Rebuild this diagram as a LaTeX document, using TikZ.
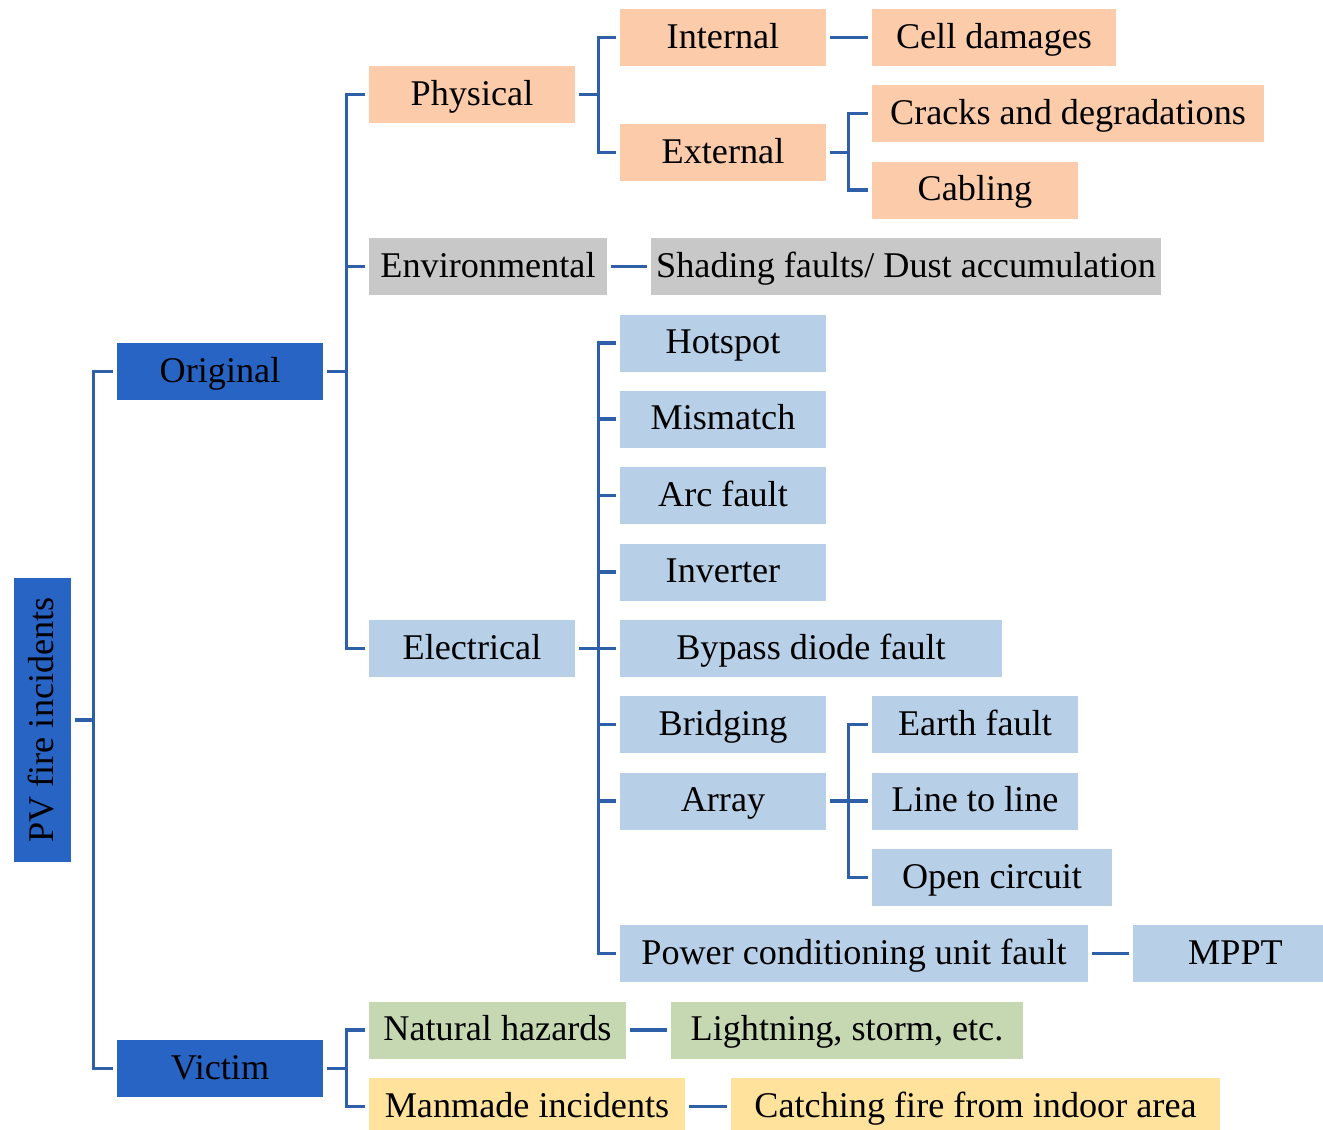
\documentclass[tikz,border=0pt]{standalone}
\usepackage{fontspec}
\setmainfont{Liberation Serif}
\definecolor{darkBlue}{RGB}{40,100,196}
\definecolor{lightBlue}{RGB}{183,208,232}
\definecolor{peach}{RGB}{251,203,170}
\definecolor{stone}{RGB}{200,200,200}
\definecolor{sage}{RGB}{197,216,178}
\definecolor{butter}{RGB}{255,226,155}
\definecolor{linkBlue}{RGB}{46,96,170}
\begin{document}
\begin{tikzpicture}[x=0.02cm, y=-0.02cm,
    boxStyle/.style={rectangle, inner sep=0pt, minimum height=1.14cm, minimum width=4.12cm,
        text height=15pt, text depth=3pt, font=\fontsize{20.6}{24}\selectfont},
    linkStyle/.style={draw=linkBlue, line width=2pt, shorten <=0.08cm, shorten >=0.08cm}]
    \path[use as bounding box, fill=white] (0,0) rectangle (1323,1130);

    \node[boxStyle, fill=darkBlue, rotate=90, minimum width=5.68cm](root) at (42.5, 720) {PV fire incidents};
    \node[boxStyle, fill=darkBlue](orig) at (220, 371.5) {Original};
    \node[boxStyle, fill=darkBlue](vict) at (220, 1068.5) {Victim};

    \node[boxStyle, fill=peach](phys) at (472, 94.5) {Physical};
    \node[boxStyle, fill=stone, minimum width=4.76cm](env) at (488, 266.5) {Environmental};
    \node[boxStyle, fill=lightBlue](elec) at (472, 648.5) {Electrical};

    \node[boxStyle, fill=peach](intl) at (723, 37.5) {Internal};
    \node[boxStyle, fill=peach](extl) at (723, 152.5) {External};
    \node[boxStyle, fill=peach, minimum width=4.88cm](cell) at (994, 37.5) {Cell damages};
    \node[boxStyle, fill=peach, minimum width=7.84cm](crack) at (1068, 113.5) {Cracks and degradations};
    \node[boxStyle, fill=peach](cable) at (975, 190) {Cabling};
    \node[boxStyle, fill=stone, minimum width=10.2cm](shade) at (906, 266.5) {Shading faults/ Dust accumulation};

    \node[boxStyle, fill=lightBlue](hot) at (723, 343) {Hotspot};
    \node[boxStyle, fill=lightBlue](mis) at (723, 419) {Mismatch};
    \node[boxStyle, fill=lightBlue](arc) at (723, 495.5) {Arc fault};
    \node[boxStyle, fill=lightBlue](inv) at (723, 572) {Inverter};
    \node[boxStyle, fill=lightBlue, minimum width=7.64cm](byp) at (811, 648.5) {Bypass diode fault};
    \node[boxStyle, fill=lightBlue](brid) at (723, 724.5) {Bridging};
    \node[boxStyle, fill=lightBlue](arr) at (723, 801) {Array};
    \node[boxStyle, fill=lightBlue, minimum width=9.36cm](pcu) at (854, 953.5) {Power conditioning unit fault};
    \node[boxStyle, fill=lightBlue](earth) at (975, 724.5) {Earth fault};
    \node[boxStyle, fill=lightBlue](l2l) at (975, 801) {Line to line};
    \node[boxStyle, fill=lightBlue, minimum width=4.8cm](open) at (992, 877.5) {Open circuit};
    \node[boxStyle, fill=lightBlue, minimum width=3.8cm](mppt) at (1228, 953.5) {\hspace*{0.3cm}MPPT};

    \node[boxStyle, fill=sage, minimum width=5.14cm](nat) at (497.5, 1030) {Natural hazards};
    \node[boxStyle, fill=sage, minimum width=7.04cm](light) at (847, 1030) {Lightning, storm, etc.};
    \node[boxStyle, fill=butter, minimum width=6.32cm](man) at (527, 1106.5) {Manmade incidents};
    \node[boxStyle, fill=butter, minimum width=9.78cm](catch) at (975.5, 1106.5) {Catching fire from indoor area};

    \draw[linkStyle] (root.south) -- ++(22,0) |- (orig.west);
    \draw[linkStyle] (root.south) -- ++(22,0) |- (vict.west);
    \draw[linkStyle] (orig.east) -- ++(23,0) |- (phys.west);
    \draw[linkStyle] (orig.east) -- ++(23,0) |- (env.west);
    \draw[linkStyle] (orig.east) -- ++(23,0) |- (elec.west);
    \draw[linkStyle] (vict.east) -- ++(23,0) |- (nat.west);
    \draw[linkStyle] (vict.east) -- ++(23,0) |- (man.west);
    \draw[linkStyle] (phys.east) -- ++(23,0) |- (intl.west);
    \draw[linkStyle] (phys.east) -- ++(23,0) |- (extl.west);
    \draw[linkStyle] (extl.east) -- ++(22,0) |- (crack.west);
    \draw[linkStyle] (extl.east) -- ++(22,0) |- (cable.west);
    \draw[linkStyle] (intl) -- (cell);
    \draw[linkStyle] (env) -- (shade);
    \foreach \kid in {hot, mis, arc, inv, byp, brid, arr, pcu}
        \draw[linkStyle] (elec.east) -- ++(23,0) |- (\kid.west);
    \foreach \kid in {earth, l2l, open}
        \draw[linkStyle] (arr.east) -- ++(22,0) |- (\kid.west);
    \draw[linkStyle] (pcu) -- (mppt);
    \draw[linkStyle] (nat) -- (light);
    \draw[linkStyle] (man) -- (catch);
\end{tikzpicture}
\end{document}
